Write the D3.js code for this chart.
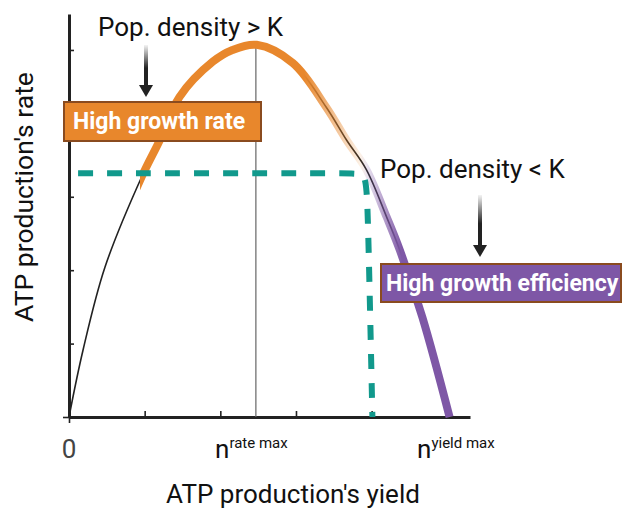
<!DOCTYPE html>
<html>
<head>
<meta charset="utf-8">
<script src="https://cdn.jsdelivr.net/npm/d3@7"></script>
<style>
  html, body { margin: 0; padding: 0; background: #fff; }
  svg { display: block; }
  text { font-family: Roboto, "Noto Sans", sans-serif; }
</style>
</head>
<body>
<svg id="chart" width="624" height="510"></svg>
<script>
// ---- data ----
const curveX = [0, 0.185, 0.475, 0.96, 1.20, 1.46, 1.90, 2.16, 2.48, 2.96, 3.40, 3.67, 3.93, 4.20, 4.37, 4.67, 5.03];
const curveY = [0, 0.91, 2.04, 3.27, 3.77, 4.36, 4.84, 5.00, 5.07, 4.82, 4.22, 3.77, 3.37, 2.72, 2.28, 1.36, 0];
const tealX = [0.12, 3.76, 3.90, 3.935, 3.955, 4.01];
const tealY = [3.32, 3.32, 3.32, 3.12, 2.6, 0];
const rateMaxX = 2.47;
const xTicks = [1, 2, 3, 4, 5];
const yTicks = [1, 2, 3, 4, 5];
const xLabels = [
  { v: 0, main: "0", sup: "" },
  { v: 1.93, main: "n", sup: "rate max" },
  { v: 4.6, main: "n", sup: "yield max" }
];
const annotTop = "Pop. density > K";
const annotBottom = "Pop. density < K";
const boxRate = "High growth rate";
const boxYield = "High growth efficiency";
const xTitle = "ATP production's yield";
const yTitle = "ATP production's rate";

// ---- scales ----
const x = d3.scaleLinear().domain([0, 5.3]).range([69, 470]);
const y = d3.scaleLinear().domain([0, 5.49]).range([417, 14]);

const svg = d3.select("#chart");
const defs = svg.append("defs");

const orange = "#E8872C", purple = "#7E57A6", teal = "#11998C", brown = "#8A4B1F";
const off = v => (x(v) - x(0)) / (x(5.3) - x(0));
function grad(id, stops) {
  const g = defs.append("linearGradient").attr("id", id)
    .attr("gradientUnits", "userSpaceOnUse")
    .attr("x1", x(0)).attr("x2", x(5.3)).attr("y1", 0).attr("y2", 0);
  stops.forEach(s => g.append("stop").attr("offset", s[0]).attr("stop-color", s[1]).attr("stop-opacity", s[2]));
}
grad("orangeGrad", [[0, orange, 0], [off(0.935), orange, 0], [off(0.935), orange, 1],
  [off(3.1), orange, 1], [off(3.95), orange, 0], [1, orange, 0]]);
grad("purpleGrad", [[0, purple, 0], [off(3.85), purple, 0], [off(4.4), purple, 1], [1, purple, 1]]);

const arrowGrad = defs.append("linearGradient").attr("id", "arrowGrad")
  .attr("x1", 0).attr("x2", 0).attr("y1", 0).attr("y2", 1);
arrowGrad.append("stop").attr("offset", 0).attr("stop-color", "#222").attr("stop-opacity", 0.05);
arrowGrad.append("stop").attr("offset", 0.55).attr("stop-color", "#222").attr("stop-opacity", 1);
arrowGrad.append("stop").attr("offset", 1).attr("stop-color", "#222").attr("stop-opacity", 1);

// ---- axes ----
const axisColor = "#222";
svg.append("g").attr("transform", `translate(${x(0)},0)`)
  .call(d3.axisRight(y).tickValues(yTicks).tickSize(5).tickSizeOuter(0).tickFormat(""));
svg.append("g").attr("transform", `translate(0,${y(0)})`)
  .call(d3.axisTop(x).tickValues(xTicks).tickSize(6).tickSizeOuter(0).tickFormat(""));
svg.append("g").attr("transform", `translate(0,${y(0)})`)
  .call(d3.axisBottom(x).tickValues([0]).tickSize(6).tickFormat("")).select(".domain").remove();
svg.append("g").attr("transform", `translate(${x(0)},0)`)
  .call(d3.axisLeft(y).tickValues([0]).tickSize(6).tickFormat("")).select(".domain").remove();
svg.selectAll(".domain").attr("stroke", axisColor).attr("stroke-width", 3);
svg.selectAll(".tick line").attr("stroke", axisColor).attr("stroke-width", 1.6);

// vertical line at rate max
svg.append("line")
  .attr("x1", x(rateMaxX)).attr("x2", x(rateMaxX))
  .attr("y1", y(5.05)).attr("y2", y(0))
  .attr("stroke", "#666").attr("stroke-width", 1.2);

// ---- curve ----
const pts = curveX.map((v, i) => [v, curveY[i]]);
const line = d3.line().x(d => x(d[0])).y(d => y(d[1])).curve(d3.curveCatmullRom.alpha(0.5));
svg.append("path").attr("d", line(pts)).attr("fill", "none")
  .attr("stroke", "#222").attr("stroke-width", 1.6);
svg.append("path").attr("d", line(pts)).attr("fill", "none")
  .attr("stroke", "url(#purpleGrad)").attr("stroke-width", 8);
svg.append("path").attr("d", line(pts)).attr("fill", "none")
  .attr("stroke", "url(#orangeGrad)").attr("stroke-width", 8);

// ---- teal dashed ----
const tpts = tealX.map((v, i) => [v, tealY[i]]);
const tline = d3.line().x(d => x(d[0])).y(d => y(d[1])).curve(d3.curveBasis);
svg.append("path").attr("d", tline(tpts)).attr("fill", "none")
  .attr("stroke", teal).attr("stroke-width", 6)
  .attr("stroke-dasharray", "15 14");

// ---- arrows ----
function arrow(cx, y0, y1) {
  svg.append("rect").attr("x", cx - 2).attr("y", y0).attr("width", 4).attr("height", y1 - y0 - 10)
    .attr("fill", "url(#arrowGrad)");
  svg.append("path")
    .attr("d", `M${cx - 7},${y1 - 12} L${cx + 7},${y1 - 12} L${cx},${y1} Z`)
    .attr("fill", "#222");
}
arrow(146, 45, 97);
arrow(480, 195, 257);

// ---- annotations ----
svg.append("text").attr("x", 98).attr("y", 36).attr("font-size", 26).attr("fill", "#111").text(annotTop);
svg.append("text").attr("x", 380).attr("y", 178).attr("font-size", 26).attr("fill", "#111").text(annotBottom);

svg.append("rect").attr("x", 64).attr("y", 102).attr("width", 197).attr("height", 39)
  .attr("fill", orange).attr("stroke", brown).attr("stroke-width", 2);
svg.append("text").attr("x", 73).attr("y", 129).attr("font-size", 23).attr("font-weight", "bold")
  .attr("fill", "#fff").text(boxRate);

svg.append("rect").attr("x", 381).attr("y", 264).attr("width", 240).attr("height", 38)
  .attr("fill", purple).attr("stroke", brown).attr("stroke-width", 2);
svg.append("text").attr("x", 386).attr("y", 291).attr("font-size", 23).attr("font-weight", "bold")
  .attr("fill", "#fff").text(boxYield);

// ---- tick labels ----
xLabels.forEach(l => {
  const t = svg.append("text").attr("y", 458).attr("font-size", 26).attr("fill", l.sup ? "#111" : "#444");
  if (l.sup) {
    t.attr("x", x(l.v)).attr("text-anchor", "start");
    t.append("tspan").text(l.main);
    t.append("tspan").attr("font-size", 15).attr("dy", -10).text(l.sup);
  } else {
    t.attr("x", x(l.v)).attr("text-anchor", "middle").text(l.main);
  }
});

// ---- axis titles ----
svg.append("text").attr("x", 293).attr("y", 503).attr("text-anchor", "middle")
  .attr("font-size", 26).attr("fill", "#111").text(xTitle);
svg.append("text").attr("transform", "translate(33,197) rotate(-90)").attr("text-anchor", "middle")
  .attr("font-size", 26.5).attr("fill", "#111").text(yTitle);
</script>
</body>
</html>
